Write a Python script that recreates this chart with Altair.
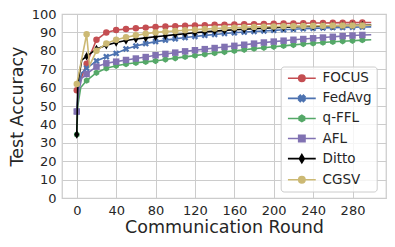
import altair as alt
import pandas as pd

# ---------------- data ----------------
ROUNDS = list(range(0, 300, 10))
SERIES = ["FOCUS", "FedAvg", "q-FFL", "AFL", "Ditto", "CGSV"]
COLORS = ["#C44E52", "#4C72B0", "#55A868", "#8172B2", "#000000", "#CCB974"]

FOCUS = [58.5, 73.0, 86.0, 90.0, 91.3, 91.8, 92.2, 92.6, 93.0, 93.2,
         93.4, 93.6, 93.8, 93.9, 94.1, 94.2, 94.3, 94.4, 94.5, 94.6,
         94.7, 94.8, 94.9, 95.0, 95.1, 95.1, 95.2, 95.3, 95.3, 95.4]
FEDAVG = [47.0, 70.5, 74.5, 76.8, 78.6, 81.0, 82.6, 83.9, 85.0, 85.8,
          86.5, 87.2, 87.8, 88.4, 88.9, 89.4, 89.8, 90.2, 90.5, 90.8,
          91.1, 91.4, 91.7, 92.0, 92.2, 92.4, 92.6, 92.7, 92.8, 92.9]
QFFL = [34.5, 63.8, 68.1, 70.5, 71.9, 72.8, 73.5, 74.0, 74.5, 75.3,
        76.0, 76.7, 77.4, 78.1, 78.8, 79.4, 80.0, 80.6, 81.2, 81.7,
        82.2, 82.7, 83.2, 83.7, 84.1, 84.5, 84.9, 85.2, 85.5, 85.8]
AFL = [47.0, 67.4, 71.4, 73.2, 74.1, 75.0, 75.8, 76.6, 77.6, 78.3,
       79.0, 79.7, 80.3, 80.9, 81.5, 82.1, 82.7, 83.3, 83.9, 84.5,
       85.0, 85.5, 86.0, 86.4, 86.8, 87.2, 87.6, 88.0, 88.3, 88.6]
DITTO = [34.5, 77.0, 81.0, 83.0, 84.5, 85.6, 86.4, 87.0, 87.6, 88.2,
         88.8, 89.3, 89.8, 90.3, 90.7, 91.1, 91.4, 91.7, 92.0, 92.3,
         92.5, 92.8, 93.0, 93.2, 93.3, 93.5, 93.6, 93.7, 93.8, 93.9]
CGSV = [62.0, 89.0, 80.0, 84.0, 86.0, 87.4, 88.4, 89.3, 90.0, 90.4,
        90.8, 91.2, 91.5, 91.8, 92.1, 92.4, 92.6, 92.8, 93.0, 93.1,
        93.2, 93.3, 93.4, 93.5, 93.6, 93.6, 93.7, 93.7, 93.8, 93.8]

# extra points of the per-round curves (line only, no marker)
FOCUS_EXTRA = [(299, 95.4)]
FEDAVG_EXTRA = [(2, 62.0), (5, 68.0), (299, 93.0)]
QFFL_EXTRA = [(1, 50.0), (4, 60.0), (299, 86.0)]
AFL_EXTRA = [(2, 58.0), (5, 65.0), (299, 88.7)]
DITTO_EXTRA = [(1, 62.0), (5, 75.0), (299, 94.0)]
CGSV_EXTRA = [(13, 72.0), (299, 93.9)]

VALUES = dict(zip(SERIES, [FOCUS, FEDAVG, QFFL, AFL, DITTO, CGSV]))
EXTRAS = dict(zip(SERIES, [FOCUS_EXTRA, FEDAVG_EXTRA, QFFL_EXTRA, AFL_EXTRA,
                           DITTO_EXTRA, CGSV_EXTRA]))

# marker glyphs (matplotlib o, X, h, s, d, o)
X_PATH = ("M-1,-0.5L-0.5,-1L0,-0.5L0.5,-1L1,-0.5L0.5,0L1,0.5L0.5,1L0,0.5"
          "L-0.5,1L-1,0.5L-0.5,0Z")
HEX_PATH = "M0,-1L0.866,-0.5L0.866,0.5L0,1L-0.866,0.5L-0.866,-0.5Z"
THIN_D_PATH = "M0,-1.3L0.78,0L0,1.3L-0.78,0Z"
CIRCLE_PATH = "M1,0A1,1,0,1,1,-1,0A1,1,0,1,1,1,0Z"
SQUARE_PATH = "M-1,-1H1V1H-1Z"
MARK_SHAPES = ["circle", X_PATH, HEX_PATH, "square", THIN_D_PATH, "circle"]
LEG_LINE = "M-4.4,0H4.4"
LEGEND_SHAPES = [p + LEG_LINE for p in
                 [CIRCLE_PATH, X_PATH, HEX_PATH, SQUARE_PATH, THIN_D_PATH, CIRCLE_PATH]]

line_rows, mark_rows = [], []
for s in SERIES:
    for r, v in zip(ROUNDS, VALUES[s]):
        mark_rows.append({"round": r, "acc": v, "series": s})
        line_rows.append({"round": r, "acc": v, "series": s})
    for r, v in EXTRAS[s]:
        line_rows.append({"round": r, "acc": v, "series": s})
line_df = pd.DataFrame(line_rows).sort_values(["series", "round"])
mark_df = pd.DataFrame(mark_rows)
# legend key rows, placed off the plotted range and clipped away
key_df = pd.DataFrame({"series": SERIES, "round": [-1000] * 6, "acc": [50] * 6})

FONT = "DejaVu Sans"
TXT = "#262626"

x_enc = alt.X("round:Q",
              scale=alt.Scale(domain=[-15, 314], nice=False, zero=False),
              axis=alt.Axis(values=list(range(0, 281, 40)), title="Communication Round",
                            grid=True, ticks=False, tickSize=0, domain=False,
                            labelFontSize=13, titleFontSize=17.5,
                            labelPadding=6, titlePadding=1))
y_enc = alt.Y("acc:Q",
              scale=alt.Scale(domain=[0, 100], nice=False),
              axis=alt.Axis(values=list(range(0, 101, 10)), title="Test Accuracy",
                            grid=True, ticks=False, tickSize=0, domain=False,
                            labelFontSize=13, titleFontSize=17.5,
                            labelPadding=6, titlePadding=5))
color_scale = alt.Scale(domain=SERIES, range=COLORS)

layers = []
for s, col, shp in zip(SERIES, COLORS, MARK_SHAPES):
    line = (alt.Chart(line_df).transform_filter(alt.datum.series == s)
            .mark_line(strokeWidth=1.6, color=col)
            .encode(x=x_enc, y=y_enc))
    pts = (alt.Chart(mark_df).transform_filter(alt.datum.series == s)
           .mark_point(filled=True, opacity=1, size=42, shape=shp, color=col)
           .encode(x=x_enc, y=y_enc))
    layers += [line, pts]

LEG = dict(orient="none", legendX=218.7, legendY=52.5, title=None,
           labelFont=FONT, labelFontSize=13.5, labelColor=TXT,
           symbolSize=40, symbolStrokeWidth=1.6, symbolOffset=9.4,
           labelOffset=14, padding=5, rowPadding=5.1,
           strokeColor="#cccccc", fillColor="rgba(255,255,255,0.8)",
           cornerRadius=3)

legend_layer = (alt.Chart(key_df)
                .mark_point(filled=True, opacity=1, size=40, strokeWidth=1.6, clip=True)
                .encode(x=x_enc, y=y_enc,
                        color=alt.Color("series:N", scale=color_scale, legend=alt.Legend(**LEG)),
                        stroke=alt.Stroke("series:N", scale=color_scale, legend=alt.Legend(**LEG)),
                        shape=alt.Shape("series:N",
                                        scale=alt.Scale(domain=SERIES, range=LEGEND_SHAPES),
                                        legend=alt.Legend(**LEG))))
layers.append(legend_layer)

chart = (alt.layer(*layers)
         .properties(width=324, height=184,
                     autosize=alt.AutoSizeParams(type="none"),
                     padding={"left": 54, "top": 6, "right": 1, "bottom": 41})
         .configure_view(stroke="#cccccc", strokeWidth=1.25)
         .configure_axis(gridColor="#cccccc", gridWidth=1, labelFont=FONT, titleFont=FONT,
                         labelColor=TXT, titleColor=TXT, titleFontWeight="normal"))

chart.save("out.html", embed_options={"renderer": "svg", "actions": False})
